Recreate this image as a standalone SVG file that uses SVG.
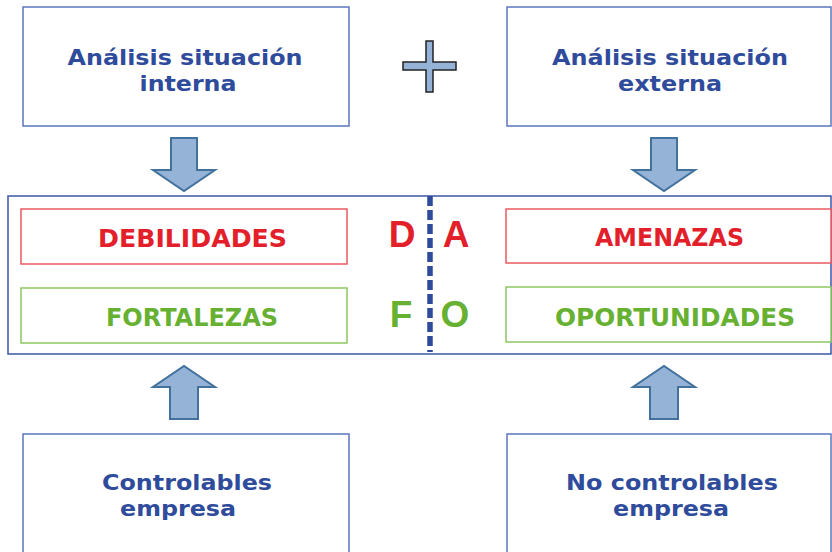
<svg xmlns="http://www.w3.org/2000/svg" width="832" height="552" viewBox="0 0 832 552">
<defs>
<style>
.box{fill:#fff;stroke:#5a76bd;stroke-width:1.5}
.t{font-family:"DejaVu Sans",Verdana,sans-serif;font-weight:bold;text-anchor:middle}
.navy{fill:#2f4b9b;font-size:22px}
.red{fill:#e3202a}
.green{fill:#66b032}
.rbox{fill:#fff;stroke:#e95a60;stroke-width:1.5}
.gbox{fill:#fff;stroke:#8cc764;stroke-width:1.5}
.lbl{font-size:24px}
.big{font-family:"Liberation Sans",Arial,sans-serif;font-weight:bold;font-size:37px;text-anchor:middle}
.arrow{fill:#95b3d7;stroke:#41719c;stroke-width:2;stroke-linejoin:miter}
</style>
</defs>
<rect width="832" height="552" fill="#fff"/>
<g id="interna">
<rect class="box" x="23" y="7" width="326" height="119"/>
<text class="t navy" x="185" y="65" textLength="235" lengthAdjust="spacingAndGlyphs">Análisis situación</text>
<text class="t navy" x="188" y="91" textLength="97" lengthAdjust="spacingAndGlyphs">interna</text>
</g>
<g id="externa">
<rect class="box" x="507" y="7" width="324" height="119"/>
<text class="t navy" x="670" y="65" textLength="236" lengthAdjust="spacingAndGlyphs">Análisis situación</text>
<text class="t navy" x="670" y="91" textLength="104" lengthAdjust="spacingAndGlyphs">externa</text>
</g>
<g id="plus">
<path d="M426,41 H433 V62 H456 V70 H433 V92 H426 V70 H403 V62 H426 Z" fill="#95b3d7" stroke="#222" stroke-width="1.5"/>
</g>
<g id="dafo">
<rect x="8" y="196" width="823" height="158" fill="#fff" stroke="#3a56a6" stroke-width="1.5"/>
<line x1="430" y1="196" x2="430" y2="352" stroke="#2e4a9a" stroke-width="5.5" stroke-dasharray="10,4"/>
</g>
<g id="debilidades">
<rect class="rbox" x="21" y="209" width="326" height="55"/>
<text class="t red lbl" x="192.5" y="247" textLength="189" lengthAdjust="spacingAndGlyphs">DEBILIDADES</text>
</g>
<g id="fortalezas">
<rect class="gbox" x="21" y="288" width="326" height="55"/>
<text class="t green lbl" x="192" y="326" textLength="172" lengthAdjust="spacingAndGlyphs">FORTALEZAS</text>
</g>
<g id="amenazas">
<rect class="rbox" x="506" y="209" width="325" height="54"/>
<text class="t red lbl" x="669.5" y="246" textLength="149" lengthAdjust="spacingAndGlyphs">AMENAZAS</text>
</g>
<g id="oportunidades">
<rect class="gbox" x="506" y="287" width="325" height="55"/>
<text class="t green lbl" x="675" y="326" textLength="240" lengthAdjust="spacingAndGlyphs">OPORTUNIDADES</text>
</g>
<g id="letters">
<text class="big red" x="402" y="247">D</text>
<text class="big red" x="456" y="247">A</text>
<text class="big green" x="401" y="327">F</text>
<text class="big green" x="455" y="327">O</text>
</g>
<g id="controlables">
<rect class="box" x="23" y="434" width="326" height="130"/>
<text class="t navy" x="187" y="490" textLength="170" lengthAdjust="spacingAndGlyphs">Controlables</text>
<text class="t navy" x="178" y="516" textLength="116" lengthAdjust="spacingAndGlyphs">empresa</text>
</g>
<g id="nocontrolables">
<rect class="box" x="507" y="434" width="324" height="130"/>
<text class="t navy" x="672" y="490" textLength="212" lengthAdjust="spacingAndGlyphs">No controlables</text>
<text class="t navy" x="671" y="516" textLength="116" lengthAdjust="spacingAndGlyphs">empresa</text>
</g>
<g id="connectors">
<path class="arrow" d="M171,138 H197 V170 H215 L184,191 L153,170 H171 Z"/>
<path class="arrow" d="M651,138 H677 V170 H695 L664,191 L633,170 H651 Z"/>
<path class="arrow" d="M170,419 H198 V387 H215 L184,366 L153,387 H170 Z"/>
<path class="arrow" d="M650,419 H678 V387 H695 L664,366 L633,387 H650 Z"/>
</g>
</svg>
